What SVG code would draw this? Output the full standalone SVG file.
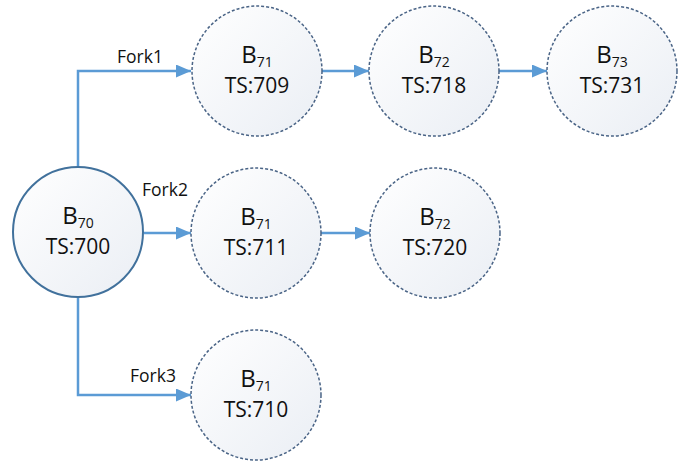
<svg xmlns="http://www.w3.org/2000/svg" width="695" height="464" viewBox="0 0 695 464">
<style>
.n{fill:url(#g);stroke:#4a6486;stroke-width:1.5;stroke-dasharray:3 2}
.root{fill:url(#g);stroke:#41719c;stroke-width:2}
.c{fill:none;stroke:#5b9bd5;stroke-width:2.5}
text{font-family:"Open Sans","Liberation Sans",sans-serif;fill:#111}
.b{font-size:24px}
.s{font-size:14px}
.ts{font-size:21px}
.l{font-size:17.5px}
</style>
<defs>
<linearGradient id="g" x1="0" y1="0" x2="1" y2="1">
<stop offset="0" stop-color="#ffffff"/>
<stop offset="1" stop-color="#eaeef4"/>
</linearGradient>
<marker id="a" markerWidth="15" markerHeight="13" refX="15" refY="6.5" orient="auto" markerUnits="userSpaceOnUse" viewBox="0 0 15 13">
<path d="M0,0 L15,6.5 L0,13 z" fill="#5b9bd5"/>
</marker>
</defs>
<g id="connectors">
<polyline class="c" points="78,167 78,71 191,71" marker-end="url(#a)"/>
<line class="c" x1="144" y1="233" x2="191" y2="233" marker-end="url(#a)"/>
<polyline class="c" points="78,297 78,395 191,395" marker-end="url(#a)"/>
<line class="c" x1="322" y1="71" x2="369" y2="71" marker-end="url(#a)"/>
<line class="c" x1="499" y1="71" x2="547" y2="71" marker-end="url(#a)"/>
<line class="c" x1="321" y1="233" x2="370" y2="233" marker-end="url(#a)"/>
<text class="l" x="117" y="63">Fork1</text>
<text class="l" x="142" y="196">Fork2</text>
<text class="l" x="130" y="382">Fork3</text>
</g>
<g id="b70">
<circle class="root" cx="78" cy="232" r="65"/>
<text class="b" x="78" y="224" text-anchor="middle">B<tspan class="s" dy="4">70</tspan></text>
<text class="ts" x="78" y="254" text-anchor="middle">TS:700</text>
</g>
<g id="b71a">
<circle class="n" cx="257" cy="71" r="65"/>
<text class="b" x="257" y="63" text-anchor="middle">B<tspan class="s" dy="4">71</tspan></text>
<text class="ts" x="257" y="93" text-anchor="middle">TS:709</text>
</g>
<g id="b72a">
<circle class="n" cx="434" cy="71" r="65"/>
<text class="b" x="434" y="63" text-anchor="middle">B<tspan class="s" dy="4">72</tspan></text>
<text class="ts" x="434" y="93" text-anchor="middle">TS:718</text>
</g>
<g id="b73">
<circle class="n" cx="612" cy="71" r="65"/>
<text class="b" x="612" y="63" text-anchor="middle">B<tspan class="s" dy="4">73</tspan></text>
<text class="ts" x="612" y="93" text-anchor="middle">TS:731</text>
</g>
<g id="b71b">
<circle class="n" cx="256" cy="233" r="65"/>
<text class="b" x="256" y="225" text-anchor="middle">B<tspan class="s" dy="4">71</tspan></text>
<text class="ts" x="256" y="255" text-anchor="middle">TS:711</text>
</g>
<g id="b72b">
<circle class="n" cx="435" cy="233" r="65"/>
<text class="b" x="435" y="225" text-anchor="middle">B<tspan class="s" dy="4">72</tspan></text>
<text class="ts" x="435" y="255" text-anchor="middle">TS:720</text>
</g>
<g id="b71c">
<circle class="n" cx="256" cy="395" r="65"/>
<text class="b" x="256" y="387" text-anchor="middle">B<tspan class="s" dy="4">71</tspan></text>
<text class="ts" x="256" y="417" text-anchor="middle">TS:710</text>
</g>
</svg>
